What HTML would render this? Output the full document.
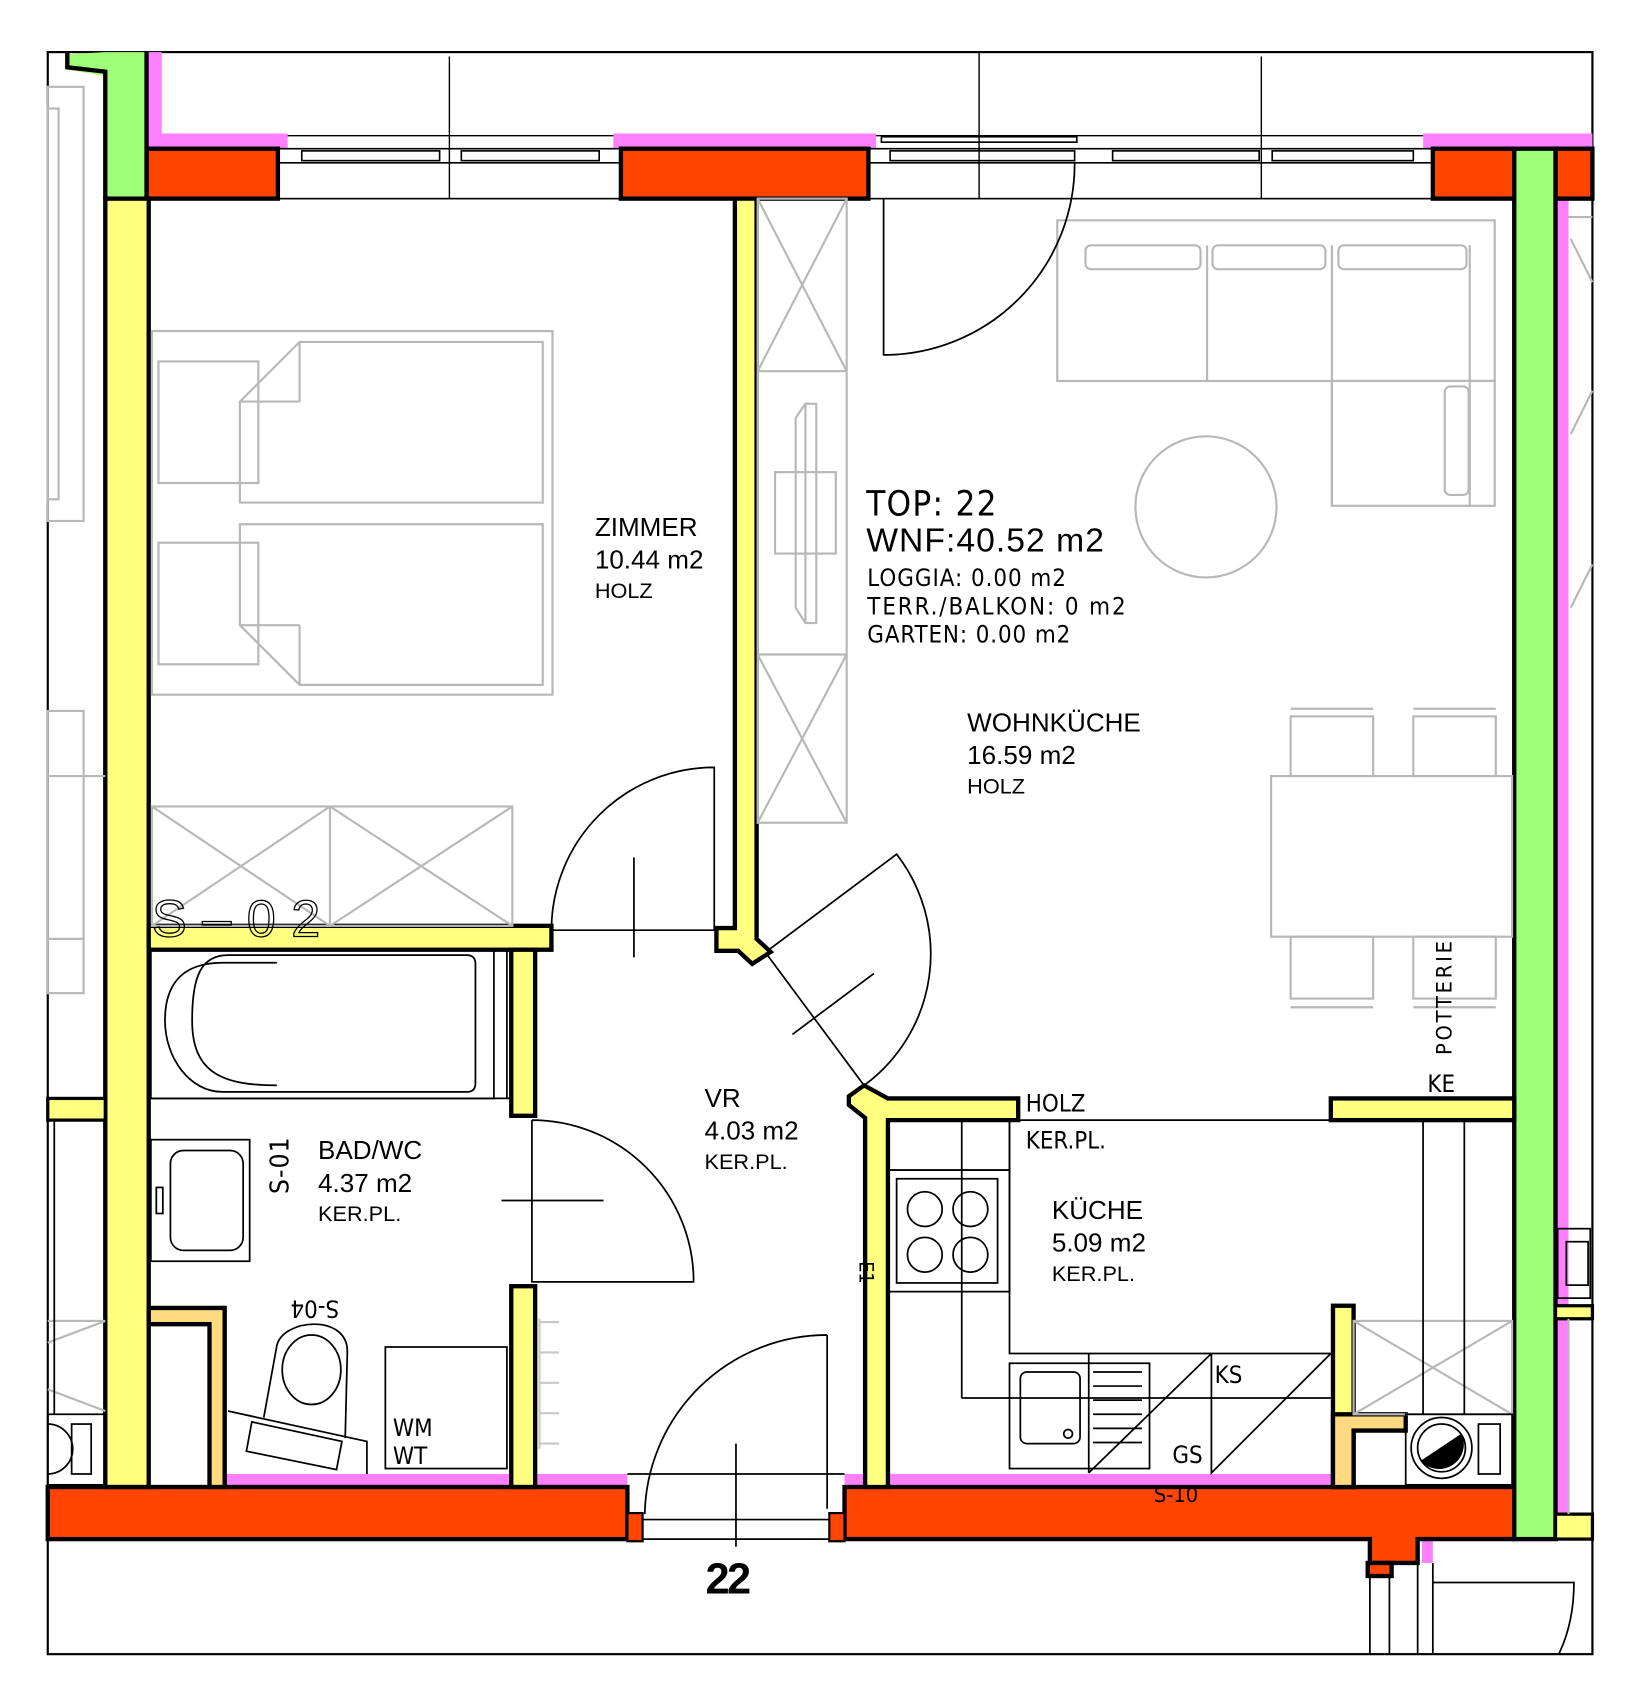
<!DOCTYPE html>
<html><head><meta charset="utf-8"><style>
html,body{margin:0;padding:0;background:#fff;}
svg{display:block;}
text{font-family:"Liberation Sans",sans-serif;}
.n{font-family:"DejaVu Sans Condensed","Liberation Sans Narrow","Liberation Sans",sans-serif;}
</style></head><body>
<svg width="1638" height="1703" viewBox="0 0 1509 1569" preserveAspectRatio="none" xmlns="http://www.w3.org/2000/svg">
<rect x="0" y="0" width="1509" height="1569" fill="#fff"/>
<rect x="44" y="48" width="1423" height="1476" fill="none" stroke="#000" stroke-width="2"/>
<g stroke="#000" stroke-width="1.3" fill="none">
<line x1="414" y1="52" x2="414" y2="183"/>
<line x1="902" y1="48" x2="902" y2="183"/>
<line x1="1162" y1="52" x2="1162" y2="183"/>
<line x1="150" y1="125" x2="1311" y2="125"/>
</g>
<g fill="#ff80ff">
<rect x="135" y="48" width="14" height="87"/>
<rect x="135" y="123" width="130" height="14"/>
<rect x="565" y="123" width="242" height="14"/>
<rect x="1311" y="123" width="156" height="14"/>
<rect x="1433" y="183" width="12" height="1212"/>
<rect x="207" y="1358" width="265" height="12"/>
<rect x="493" y="1358" width="85" height="12"/>
<rect x="778" y="1358" width="20" height="12"/>
<rect x="818" y="1358" width="410" height="12"/>
<rect x="1310" y="1418" width="10" height="22"/>
</g>
<g stroke="#000" stroke-width="1.5" fill="none">
<rect x="256" y="137" width="316" height="46"/>
<rect x="800" y="137" width="520" height="46"/>
<line x1="256" y1="150" x2="572" y2="150"/>
<line x1="800" y1="150" x2="1320" y2="150"/>
<rect x="278" y="139" width="127" height="9"/>
<rect x="425" y="139" width="127" height="9"/>
<rect x="820" y="139" width="170" height="9"/>
<rect x="1025" y="139" width="135" height="9"/>
<rect x="1172" y="139" width="130" height="9"/>
<rect x="812" y="126" width="180" height="5"/>
</g>
<g fill="#ff4500" stroke="#000" stroke-width="4">
<rect x="135" y="137" width="121" height="46"/>
<rect x="572" y="137" width="228" height="46"/>
<rect x="1320" y="137" width="75" height="46"/>
<rect x="1433" y="137" width="34" height="46"/>
<rect x="44" y="1370" width="534" height="48"/>
<path d="M778 1370 H1395 V1418 H1306 V1440 H1262 V1418 H778 Z"/>
<rect x="1260" y="1440" width="22" height="12"/>
<rect x="578" y="1394" width="14" height="26" stroke-width="2"/>
<rect x="764" y="1394" width="14" height="26" stroke-width="2"/>
</g>
<path d="M97 48 H135 V183 H97 V70 L62 64 V50" fill="#a0ff78"/>
<path d="M62 48 V62 L97 66 V183" fill="none" stroke="#000" stroke-width="4"/>
<line x1="135" y1="48" x2="135" y2="183" stroke="#000" stroke-width="4"/>
<rect x="1395" y="137" width="38" height="1281" fill="#a0ff78" stroke="#000" stroke-width="4"/>
<g fill="#ffff80" stroke="#000" stroke-width="4">
<rect x="97" y="183" width="40" height="1187"/>
<path d="M660 855 H677 V183 H697 V865 L710 877 L693 888 L680 876 H660 Z"/>
<rect x="137" y="853" width="371" height="22"/>
<rect x="471" y="875" width="22" height="153"/>
<rect x="471" y="1185" width="22" height="185"/>
<path d="M782 1010 L796 1000 L818 1012 H938 V1032 H818 V1370 H797 V1030 L782 1018 Z"/>
<rect x="1226" y="1012" width="169" height="20"/>
<rect x="1228" y="1203" width="19" height="167"/>
<rect x="44" y="1012" width="53" height="20" stroke-width="3"/>
<rect x="1433" y="1395" width="34" height="23" stroke-width="3"/>
<rect x="1433" y="1203" width="34" height="12" stroke-width="3"/>
</g>
<g fill="#ffda80" stroke="#000" stroke-width="4">
<path d="M137 1205 H207 V1370 H193 V1220 H137 Z"/>
<path d="M1228 1303 H1295 V1318 H1247 V1370 H1228 Z"/>
</g>
<g stroke="#b8b8b8" stroke-width="2" fill="none">
<rect x="140" y="305" width="369" height="335"/>
<rect x="146" y="333" width="92" height="112"/>
<path d="M221 370 L276 315 H500 V463 H221 Z"/>
<line x1="221" y1="370" x2="276" y2="370"/><line x1="276" y1="315" x2="276" y2="370"/>
<rect x="146" y="500" width="92" height="112"/>
<path d="M221 483 H500 V631 H276 L221 576 Z"/>
<line x1="221" y1="576" x2="276" y2="576"/><line x1="276" y1="576" x2="276" y2="631"/>
<rect x="140" y="743" width="332" height="110"/>
<line x1="304" y1="743" x2="304" y2="853"/>
<path d="M140 743 L304 853 M304 743 L140 853 M304 743 L472 853 M472 743 L304 853"/>
<rect x="698" y="183" width="82" height="575"/>
<line x1="698" y1="342" x2="780" y2="342"/><line x1="698" y1="603" x2="780" y2="603"/>
<path d="M698 183 L780 342 M780 183 L698 342 M698 603 L780 758 M780 603 L698 758"/>
<rect x="714" y="435" width="56" height="75"/>
<rect x="742" y="372" width="10" height="202"/>
<path d="M733 385 L742 372 M733 560 L742 574 M733 385 V560"/>
<rect x="974" y="203" width="403" height="148"/>
<rect x="1000" y="226" width="106" height="22" rx="5"/>
<rect x="1117" y="226" width="104" height="22" rx="5"/>
<rect x="1233" y="226" width="118" height="22" rx="5"/>
<line x1="1112" y1="226" x2="1112" y2="351"/><line x1="1227" y1="226" x2="1227" y2="466"/>
<rect x="1227" y="351" width="150" height="115"/>
<rect x="1331" y="356" width="22" height="100" rx="5"/>
<line x1="1354" y1="226" x2="1354" y2="466"/>
<circle cx="1111" cy="467" r="65"/>
<rect x="1171" y="715" width="222" height="148"/>
<rect x="1189" y="660" width="76" height="55"/><rect x="1302" y="660" width="76" height="55"/>
<rect x="1189" y="863" width="76" height="57"/><rect x="1302" y="863" width="76" height="57"/>
<line x1="1189" y1="653" x2="1265" y2="653"/><line x1="1302" y1="653" x2="1378" y2="653"/>
<line x1="1189" y1="928" x2="1265" y2="928"/><line x1="1302" y1="928" x2="1378" y2="928"/>
<rect x="1247" y="1217" width="146" height="86"/>
<path d="M1247 1217 L1393 1303 M1393 1217 L1247 1303"/>
<rect x="44" y="80" width="33" height="400"/>
<rect x="44" y="100" width="10" height="360"/>
<rect x="44" y="655" width="33" height="260"/>
<line x1="44" y1="715" x2="97" y2="715"/><line x1="44" y1="865" x2="77" y2="865"/>
<path d="M44 1217 H97 M44 1237 L97 1217 M44 1280 L97 1300"/>
<path d="M1445 200 H1467 M1445 1215 V1395 M1447 220 L1467 260 M1447 560 L1467 520 M1447 400 L1467 360"/>
<g stroke="#c8c8c8"><line x1="497" y1="1218" x2="515" y2="1218"/><line x1="497" y1="1246" x2="515" y2="1246"/><line x1="497" y1="1274" x2="515" y2="1274"/><line x1="497" y1="1302" x2="515" y2="1302"/><line x1="497" y1="1330" x2="515" y2="1330"/><line x1="497" y1="1215" x2="497" y2="1335"/></g>
</g>
<g stroke="#000" stroke-width="1.6" fill="none">
<rect x="139" y="875" width="316" height="137"/>
<line x1="467" y1="875" x2="467" y2="1012"/>
<line x1="137" y1="1012" x2="471" y2="1012"/>
<path d="M255 887 H205 C165 887 152 910 152 940 C152 975 175 1006 205 1006 H430 Q438 1006 438 998 V888 Q438 880 430 880 H210 C185 880 177 900 177 940 C177 985 200 1000 255 1000"/>
<rect x="139" y="1050" width="91" height="112"/>
<rect x="157" y="1060" width="67" height="92" rx="12"/>
<rect x="144" y="1094" width="6" height="24"/>
<path d="M210 1300 L338 1328 V1358"/>
<path d="M232 1310 L315 1328 L310 1354 L227 1337 Z"/>
<path d="M243 1306 L255 1240 C260 1215 320 1210 320 1245 L318 1325"/>
<ellipse cx="287" cy="1262" rx="27" ry="32"/>
<rect x="355" y="1241" width="112" height="112"/>
<rect x="818" y="1032" width="112" height="46"/>
<line x1="886" y1="1032" x2="886" y2="1288"/>
<rect x="818" y="1078" width="112" height="112"/>
<rect x="826" y="1086" width="93" height="96"/>
<circle cx="852" cy="1114" r="16"/><circle cx="894" cy="1114" r="16"/>
<circle cx="852" cy="1156" r="16"/><circle cx="894" cy="1156" r="16"/>
<path d="M930 1032 V1247 H1226 M886 1288 H1226"/>
<rect x="930" y="1256" width="129" height="97"/>
<rect x="940" y="1264" width="55" height="66" rx="6"/>
<circle cx="984" cy="1321" r="4"/>
<line x1="1003" y1="1247" x2="1003" y2="1357"/>
<path d="M1007 1264 H1052 M1007 1277 H1052 M1007 1290 H1052 M1007 1303 H1052 M1007 1316 H1052 M1007 1329 H1052"/>
<path d="M1003 1357 L1116 1247 M1116 1247 V1357 L1226 1247"/>
<line x1="938" y1="1032" x2="1226" y2="1032"/>
<line x1="1311" y1="1032" x2="1311" y2="1303"/><line x1="1349" y1="1032" x2="1349" y2="1303"/>
<rect x="1295" y="1303" width="98" height="65"/>
<circle cx="1328" cy="1334" r="28"/><circle cx="1328" cy="1334" r="22"/>
<path d="M1310 1346 L1346 1322 A22 22 0 0 1 1310 1346 Z" fill="#000"/>
<rect x="1362" y="1312" width="20" height="46"/>
<rect x="1435" y="1132" width="30" height="64"/>
<rect x="1443" y="1144" width="20" height="40"/>
<rect x="44" y="1303" width="53" height="65"/>
<rect x="66" y="1312" width="18" height="46"/>
<path d="M44 1312 A22 22 0 0 1 44 1358"/>
<line x1="50" y1="1032" x2="50" y2="1303"/>
<line x1="578" y1="1358" x2="778" y2="1358"/>
<line x1="592" y1="1400" x2="764" y2="1400"/>
<line x1="592" y1="1418" x2="764" y2="1418"/>
<line x1="1262" y1="1452" x2="1262" y2="1524"/><line x1="1280" y1="1452" x2="1280" y2="1524"/><line x1="1306" y1="1440" x2="1306" y2="1524"/><line x1="1320" y1="1440" x2="1320" y2="1524"/>
<path d="M1320 1458 H1450 Q1450 1495 1436 1524"/>
<path d="M658 857 V707 A150 150 0 0 0 508 857 H658"/>
<line x1="584" y1="790" x2="584" y2="882"/>
<path d="M490 1032 V1181 H639 A149 149 0 0 0 490 1032"/>
<line x1="462" y1="1106" x2="556" y2="1106"/>
<path d="M762 1230 V1390 M762 1230 A168 168 0 0 0 594 1395"/>
<line x1="678" y1="1330" x2="678" y2="1425"/>
<path d="M707 876 L826 787 A150 150 0 0 1 796 1000 L707 880"/>
<line x1="730" y1="953" x2="805" y2="897"/>
<path d="M814 183 V327 A176 176 0 0 0 990 150"/>
</g>
<g fill="#000">
<text x="548" y="494" font-size="24">ZIMMER</text>
<text x="548" y="524" font-size="24">10.44 m2</text>
<text x="548" y="551" font-size="20">HOLZ</text>
<text class="n" x="798" y="475" font-size="32" textLength="120">TOP: 22</text>
<text x="798" y="508" font-size="31" textLength="219">WNF:40.52 m2</text>
<text class="n" x="799" y="540" font-size="22" textLength="183">LOGGIA: 0.00 m2</text>
<text class="n" x="799" y="566" font-size="22" textLength="238">TERR./BALKON: 0 m2</text>
<text class="n" x="799" y="592" font-size="22" textLength="187">GARTEN: 0.00 m2</text>
<text x="891" y="674" font-size="24">WOHNKÜCHE</text>
<text x="891" y="704" font-size="24">16.59 m2</text>
<text x="891" y="731" font-size="20">HOLZ</text>
<text x="649" y="1020" font-size="24">VR</text>
<text x="649" y="1050" font-size="24">4.03 m2</text>
<text x="649" y="1077" font-size="20">KER.PL.</text>
<text x="293" y="1068" font-size="24">BAD/WC</text>
<text x="293" y="1098" font-size="24">4.37 m2</text>
<text x="293" y="1125" font-size="20">KER.PL.</text>
<text x="969" y="1123" font-size="24">KÜCHE</text>
<text x="969" y="1153" font-size="24">5.09 m2</text>
<text x="969" y="1180" font-size="20">KER.PL.</text>
<text class="n" x="945" y="1024" font-size="22">HOLZ</text>
<text class="n" x="945" y="1058" font-size="22">KER.PL.</text>
<text class="n" x="1315" y="1006" font-size="22">KE</text>
<text class="n" x="1337" y="972" font-size="20" textLength="105" transform="rotate(-90 1337 972)">POTTERIE</text>
<text class="n" x="1119" y="1274" font-size="22">KS</text>
<text class="n" x="1080" y="1348" font-size="22">GS</text>
<text class="n" x="1063" y="1384" font-size="20">S-10</text>
<text class="n" x="362" y="1323" font-size="22">WM</text>
<text class="n" x="362" y="1349" font-size="22">WT</text>
<text class="n" x="266" y="1100" font-size="24" textLength="52" transform="rotate(-90 266 1100)">S-01</text>
<text class="n" x="290" y="1218" font-size="22" text-anchor="middle" transform="rotate(180 290 1208)">S-04</text>
<text class="n" x="792" y="1162" font-size="18" transform="rotate(90 792 1162)">E1</text>
<text x="140" y="863" font-size="48" fill="none" stroke="#000" stroke-width="1.2" textLength="155">S–02</text>
<text x="650" y="1468" font-size="40" font-weight="bold" textLength="42">22</text>
</g>
</svg>
</body></html>
